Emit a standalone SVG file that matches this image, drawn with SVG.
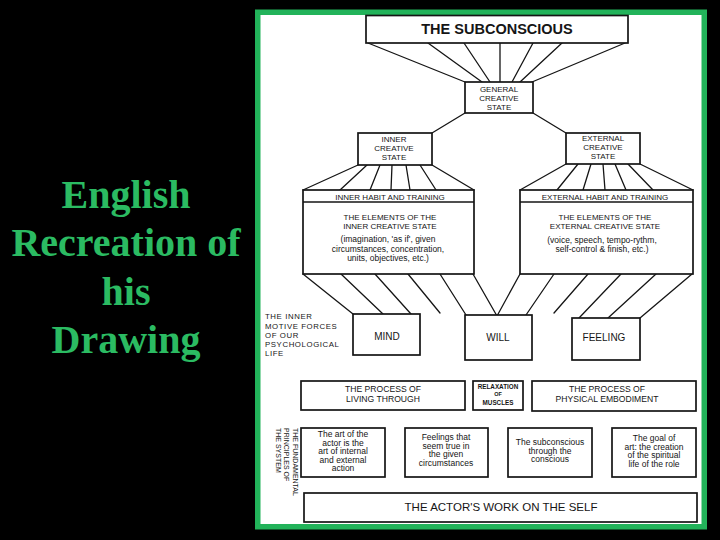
<svg xmlns="http://www.w3.org/2000/svg" width="720" height="540" viewBox="0 0 720 540">
<style>
.box{fill:#fff;stroke:#151515;stroke-width:1.7}
.ln{stroke:#151515;stroke-width:1.3;fill:none;stroke-linecap:round}
.t{font-family:"Liberation Sans",Arial,sans-serif;fill:#151515;text-anchor:middle}
.s{font-size:8px}
.m{font-size:8.5px}
.l{font-size:8.6px}
.b{font-size:10px}
.v{text-anchor:start;font-size:7px}
.title{font-family:"Liberation Serif","Times New Roman",serif;font-weight:bold;font-size:40px;fill:#2bbb62;text-anchor:middle}
</style>
<rect x="0" y="0" width="720" height="540" fill="#000"/>
<g id="title">
<text class="title" x="126" y="208">English</text>
<text class="title" x="126" y="256">Recreation of</text>
<text class="title" x="126" y="305">his</text>
<text class="title" x="126" y="353">Drawing</text>
</g>
<rect x="257.75" y="12.25" width="446.5" height="514.5" fill="#fff" stroke="#22b35a" stroke-width="5.5"/>

<g id="connectors">
<!-- subconscious to general -->
<path class="ln" d="M368 43L465 82M428 43L482 82M464 43L490 82M500 43L500 82M533 43L512 82M562 43L520 82M625 43L532 82"/>
<!-- general to inner/external -->
<path class="ln" d="M465 113L432 133M533 113L566 133"/>
<!-- inner creative to inner habit -->
<path class="ln" d="M358 165L303 190M367 165L340 190M380 165L370 190M392 165L391 190M406 165L410 190M420 165L436 190M432 165L474 190"/>
<!-- external creative to external habit -->
<path class="ln" d="M566 164L520 190M578 164L557 190M591 164L583 190M603 164L605 190M615 164L626 190M628 164L653 190M640 164L693 190"/>
<!-- inner habit to forces -->
<path class="ln" d="M303 274L353 314M341 274L383 314M375 274L411 314M408 274L440 313M440 274L466 315M473 274L497 316"/>
<!-- external habit to forces -->
<path class="ln" d="M520 274L497 316M554 274L526 315M588 274L554 313M621 274L579 318M656 274L608 318M692 274L640 318"/>
</g>

<g id="subconscious">
<rect class="box" x="366" y="15.5" width="262" height="27.5"/>
<text class="t" x="497" y="34" style="font-size:14.5px;font-weight:bold">THE SUBCONSCIOUS</text>
</g>
<g id="general">
<rect class="box" x="465" y="82" width="68" height="31"/>
<text class="t s" x="499" y="92">GENERAL</text>
<text class="t s" x="499" y="101">CREATIVE</text>
<text class="t s" x="499" y="110">STATE</text>
</g>
<g id="inner-creative">
<rect class="box" x="358" y="133" width="74" height="32"/>
<text class="t s" x="394" y="142">INNER</text>
<text class="t s" x="394" y="151">CREATIVE</text>
<text class="t s" x="394" y="160">STATE</text>
</g>
<g id="external-creative">
<rect class="box" x="566" y="133" width="74" height="31"/>
<text class="t s" x="603" y="141">EXTERNAL</text>
<text class="t s" x="603" y="150">CREATIVE</text>
<text class="t s" x="603" y="159">STATE</text>
</g>
<g id="inner-habit">
<rect class="box" x="303" y="190" width="171" height="84"/>
<line x1="303" y1="202" x2="474" y2="202" stroke="#151515" stroke-width="1.5"/>
<text class="t s" x="390" y="200">INNER HABIT AND TRAINING</text>
<text class="t s" x="390" y="220">THE ELEMENTS OF THE</text>
<text class="t s" x="390" y="228.5">INNER CREATIVE STATE</text>
<text class="t m" x="388" y="242">(imagination, 'as if', given</text>
<text class="t m" x="388" y="251.5">circumstances, concentration,</text>
<text class="t m" x="388" y="261">units, objectives, etc.)</text>
</g>
<g id="external-habit">
<rect class="box" x="520" y="190" width="173" height="84"/>
<line x1="520" y1="202" x2="693" y2="202" stroke="#151515" stroke-width="1.5"/>
<text class="t s" x="605" y="200">EXTERNAL HABIT AND TRAINING</text>
<text class="t s" x="605" y="220">THE ELEMENTS OF THE</text>
<text class="t s" x="605" y="228.5">EXTERNAL CREATIVE STATE</text>
<text class="t m" x="602" y="243">(voice, speech, tempo-rythm,</text>
<text class="t m" x="602" y="252">self-control &amp; finish, etc.)</text>
</g>
<g id="motive-forces-label">
<text class="t" x="265" y="319" style="text-anchor:start;font-size:7.8px;letter-spacing:0.6px">THE INNER</text>
<text class="t" x="265" y="328.5" style="text-anchor:start;font-size:7.8px;letter-spacing:0.6px">MOTIVE FORCES</text>
<text class="t" x="265" y="337.5" style="text-anchor:start;font-size:7.8px;letter-spacing:0.6px">OF OUR</text>
<text class="t" x="265" y="346.5" style="text-anchor:start;font-size:7.8px;letter-spacing:0.6px">PSYCHOLOGICAL</text>
<text class="t" x="265" y="356" style="text-anchor:start;font-size:7.8px;letter-spacing:0.6px">LIFE</text>
</g>
<g id="mind">
<rect class="box" x="353" y="314" width="67" height="41"/>
<text class="t b" x="387" y="340">MIND</text>
</g>
<g id="will">
<rect class="box" x="465" y="315" width="67" height="45"/>
<text class="t b" x="498" y="341">WILL</text>
</g>
<g id="feeling">
<rect class="box" x="572" y="318" width="68" height="42"/>
<text class="t b" x="604" y="341">FEELING</text>
</g>
<g id="living-through">
<rect class="box" x="301" y="381" width="164" height="29"/>
<text class="t l" x="383" y="392">THE PROCESS OF</text>
<text class="t l" x="383" y="401.5">LIVING THROUGH</text>
</g>
<g id="relaxation">
<rect class="box" x="473" y="381" width="50" height="29"/>
<text class="t" x="498" y="388.5" style="font-size:6.3px;font-weight:bold">RELAXATION</text>
<text class="t" x="498" y="395.5" style="font-size:5.5px;font-weight:bold">OF</text>
<text class="t" x="498" y="404.5" style="font-size:6.3px;font-weight:bold">MUSCLES</text>
</g>
<g id="physical-embodiment">
<rect class="box" x="532" y="381" width="164" height="30"/>
<text class="t l" x="607" y="392">THE PROCESS OF</text>
<text class="t l" x="607" y="401.5">PHYSICAL EMBODIMENT</text>
</g>
<g id="principles-label">
<text class="t v" transform="translate(292.5,428) rotate(90)">THE FUNDAMENTAL</text>
<text class="t v" transform="translate(284,428) rotate(90)">PRINCIPLES OF</text>
<text class="t v" transform="translate(275.5,428) rotate(90)">THE SYSTEM</text>
</g>
<g id="principle-1">
<rect class="box" x="301" y="428" width="84" height="49"/>
<text class="t m" x="343" y="437">The art of the</text>
<text class="t m" x="343" y="445.5">actor is the</text>
<text class="t m" x="343" y="454">art of internal</text>
<text class="t m" x="343" y="462.5">and external</text>
<text class="t m" x="343" y="471">action</text>
</g>
<g id="principle-2">
<rect class="box" x="405" y="428" width="83" height="49"/>
<text class="t m" x="446" y="440">Feelings that</text>
<text class="t m" x="446" y="448.5">seem true in</text>
<text class="t m" x="446" y="457">the given</text>
<text class="t m" x="446" y="465.5">circumstances</text>
</g>
<g id="principle-3">
<rect class="box" x="508" y="428" width="84" height="49"/>
<text class="t m" x="550" y="445">The subconscious</text>
<text class="t m" x="550" y="453.5">through the</text>
<text class="t m" x="550" y="462">conscious</text>
</g>
<g id="principle-4">
<rect class="box" x="612" y="428" width="84" height="49"/>
<text class="t m" x="654" y="441">The goal of</text>
<text class="t m" x="654" y="449.5">art: the creation</text>
<text class="t m" x="654" y="458">of the spiritual</text>
<text class="t m" x="654" y="466.5">life of the role</text>
</g>
<g id="actors-work">
<rect class="box" x="304" y="493" width="393" height="29"/>
<text class="t" x="501" y="511" style="font-size:11.5px">THE ACTOR'S WORK ON THE SELF</text>
</g>
</svg>
